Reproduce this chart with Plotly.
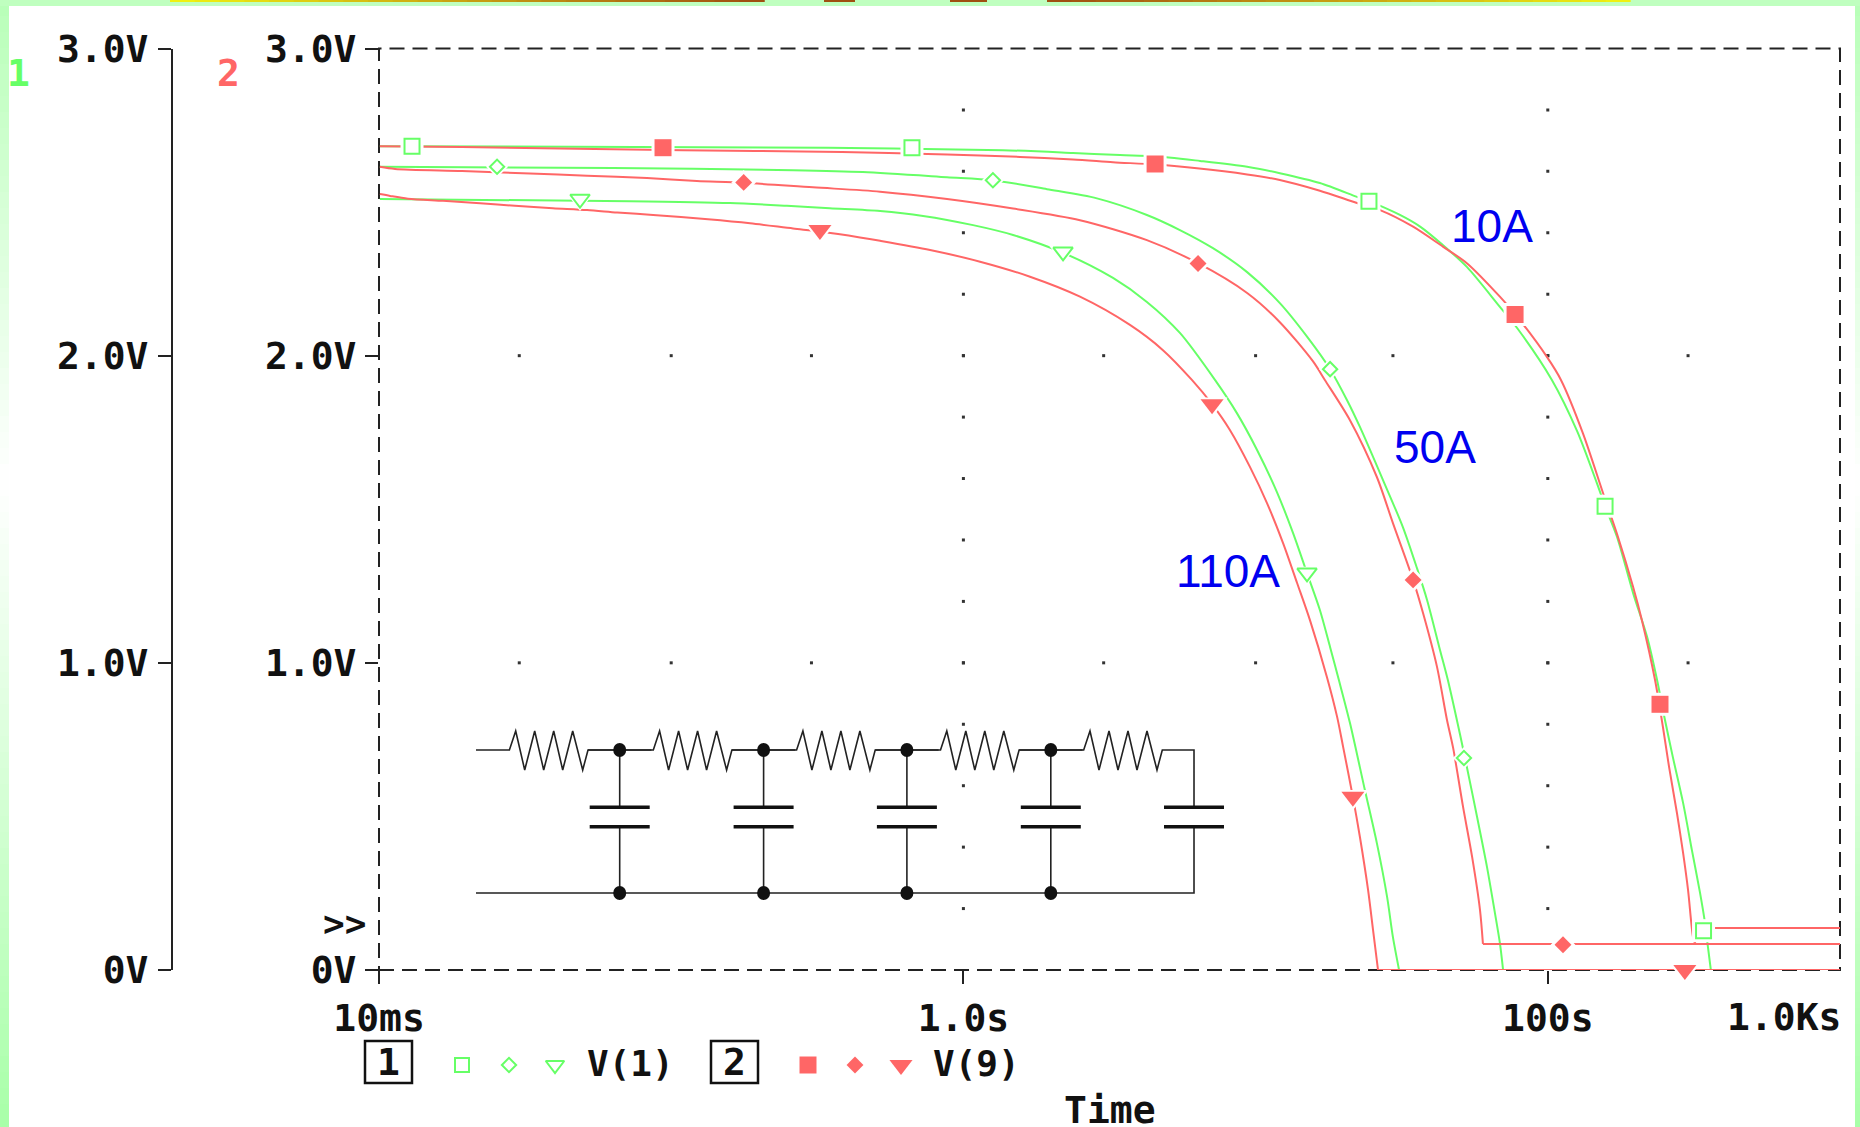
import plotly.graph_objects as go

W, H = 1860, 1127
RED, GREEN = "#ff6666", "#66ff66"
INK = "#222222"
BLUE = "#0000f0"
MONO = dict(family="DejaVu Sans Mono", size=38, color="#111111", weight=700)

# ---- axis content -------------------------------------------------------
x_tick_seconds = [0.01, 1, 100]
x_tick_labels = ["10ms", "1.0s", "100s"]
y_ticks = [0, 1, 2, 3]
y_tick_labels = ["0V", "1.0V", "2.0V", "3.0V"]

# ---- curves: log10(time / s) and volts ----------------------------------
g10_logt = [-1.997, -0.463, 0.135, 0.375, 0.536, 0.649, 0.810, 0.971, 1.083, 1.220, 1.347, 1.388, 1.494, 1.563, 1.641,
            1.723, 1.836, 1.895, 2.014, 2.100, 2.168, 2.196, 2.237, 2.292, 2.340, 2.374, 2.401, 2.428, 2.463, 2.493,
            2.521, 2.538, 2.548, 2.558, 3.0]
g10_v = [2.682, 2.677, 2.669, 2.660, 2.653, 2.650, 2.634, 2.615, 2.594, 2.562, 2.517, 2.503, 2.458, 2.420, 2.360,
         2.289, 2.159, 2.090, 1.921, 1.755, 1.585, 1.510, 1.410, 1.227, 1.084, 0.944, 0.814, 0.693, 0.544, 0.391,
         0.251, 0.153, 0.075, 0.0, 0.0]

r10_logt = [-1.997, -1.716, -0.960, -0.415, -0.056, 0.194, 0.375, 0.512, 0.656, 0.799, 0.971, 1.083, 1.220, 1.347,
            1.426, 1.539, 1.641, 1.723, 1.836, 1.888, 1.997, 2.045, 2.120, 2.189, 2.237, 2.292, 2.322, 2.367, 2.394,
            2.415, 2.442, 2.463, 2.480, 2.497, 2.504, 2.504, 3.0]
r10_v = [2.682, 2.679, 2.669, 2.663, 2.655, 2.647, 2.639, 2.630, 2.622, 2.610, 2.590, 2.572, 2.537, 2.497,
         2.474, 2.420, 2.355, 2.301, 2.192, 2.135, 1.996, 1.921, 1.748, 1.553, 1.419, 1.247, 1.139, 0.944, 0.791,
         0.661, 0.511, 0.381, 0.260, 0.107, 0.085, 0.137, 0.137]

g50_logt = [-1.997, -1.199, -0.583, -0.344, -0.056, 0.101, 0.286, 0.457, 0.628, 0.741, 0.854, 0.971, 1.083, 1.176,
            1.255, 1.313, 1.357, 1.436, 1.504, 1.552, 1.587, 1.631, 1.658, 1.700, 1.723, 1.758, 1.792, 1.819, 1.836,
            1.847, 3.0]
g50_v = [2.615, 2.611, 2.604, 2.598, 2.581, 2.571, 2.542, 2.512, 2.458, 2.409, 2.350, 2.272, 2.171, 2.062,
         1.956, 1.855, 1.768, 1.595, 1.442, 1.309, 1.204, 1.042, 0.944, 0.765, 0.661, 0.498, 0.335, 0.186, 0.088,
         0.0, 0.0]

r50_logt = [-1.997, -1.945, -1.716, -1.483, -1.288, -1.083, -0.912, -0.754, -0.515, -0.285, -0.056, 0.170, 0.399,
            0.628, 0.803, 0.971, 1.083, 1.196, 1.237, 1.323, 1.415, 1.470, 1.539, 1.573, 1.621, 1.655, 1.676, 1.710,
            1.741, 1.768, 1.778, 3.0]
r50_v = [2.615, 2.608, 2.601, 2.593, 2.586, 2.578, 2.569, 2.563, 2.548, 2.534, 2.510, 2.479, 2.441,
         2.376, 2.301, 2.204, 2.109, 1.982, 1.921, 1.790, 1.605, 1.455, 1.270, 1.162, 0.986, 0.814, 0.723, 0.531,
         0.368, 0.195, 0.085, 0.085]

g110_logt = [-1.997, -1.141, -0.799, -0.604, -0.457, -0.285, -0.138, 0.033, 0.170, 0.341, 0.512, 0.628, 0.741, 0.861,
             0.936, 1.005, 1.073, 1.128, 1.176, 1.220, 1.255, 1.285, 1.323, 1.374, 1.415, 1.450, 1.470, 1.491, 3.0]
g110_v = [2.510, 2.503, 2.497, 2.488, 2.480, 2.471, 2.455, 2.425, 2.393, 2.335, 2.253, 2.175, 2.074, 1.921,
          1.813, 1.693, 1.556, 1.423, 1.292, 1.172, 1.051, 0.944, 0.804, 0.586, 0.413, 0.238, 0.107, 0.0, 0.0]

r110_logt = [-1.997, -1.962, -1.901, -1.781, -1.654, -1.535, -1.405, -1.288, -1.185, -1.062, -0.874, -0.730, -0.583,
             -0.491, -0.354, -0.285, -0.114, 0.057, 0.228, 0.399, 0.570, 0.683, 0.782, 0.851, 0.912, 0.981, 1.039,
             1.094, 1.142, 1.186, 1.244, 1.279, 1.299, 1.333, 1.357, 1.385, 1.402, 1.419, 3.0]
r110_v = [2.526, 2.520, 2.511, 2.504, 2.496, 2.488, 2.480, 2.474, 2.466, 2.458, 2.444, 2.431, 2.414,
          2.404, 2.385, 2.374, 2.344, 2.306, 2.257, 2.192, 2.100, 2.018, 1.921, 1.842, 1.758, 1.637, 1.520,
          1.390, 1.260, 1.139, 0.954, 0.824, 0.729, 0.563, 0.433, 0.260, 0.130, 0.0, 0.0]

# ---- curve markers ------------------------------------------------------
g_square_logt = [-1.887, -0.176, 1.388, 2.196, 2.533]
g_square_v = [2.682, 2.677, 2.503, 1.510, 0.128]
g_diamond_logt = [-1.596, 0.101, 1.255, 1.713]
g_diamond_v = [2.615, 2.571, 1.956, 0.690]
g_tri_logt = [-1.312, 0.341, 1.176]
g_tri_v = [2.510, 2.338, 1.293]
r_square_logt = [-1.028, 0.656, 1.888, 2.384]
r_square_v = [2.677, 2.624, 2.134, 0.865]
r_diamond_logt = [-0.752, 0.803, 1.539, 2.052]
r_diamond_v = [2.564, 2.300, 1.270, 0.082]
r_tri_logt = [-0.491, 0.851, 1.333, 2.469]
r_tri_v = [2.409, 1.842, 0.564, 0.0]

# ---- dotted grid --------------------------------------------------------
grid_h_logt = [-1.52, -1.0, -0.52, 0.0, 0.48, 1.0, 1.47, 2.0, 2.48]
grid_h_v = [1, 2]
grid_v_logt = [0, 2]
grid_v_v = [0.2, 0.4, 0.6, 0.8, 1.0, 1.2, 1.4, 1.6, 1.8, 2.0, 2.2, 2.4, 2.6, 2.8]


def secs(seq):
    return [10 ** v for v in seq]


fig = go.Figure()

# grid dots
gx = [a for a in grid_h_logt for _ in grid_h_v] + [a for a in grid_v_logt for _ in grid_v_v]
gy = [b for _ in grid_h_logt for b in grid_h_v] + [b for _ in grid_v_logt for b in grid_v_v]
fig.add_trace(go.Scatter(x=secs(gx), y=gy, mode="markers", yaxis="y2",
                         marker=dict(symbol="square", size=3, color="#333333", line_width=0)))


# each curve: a smooth fall, then a straight tail of the given number of points
def add_curve(lx, ly, axis, color, tail=2):
    cut = len(lx) - tail
    fig.add_trace(go.Scatter(x=secs(lx[:cut + 1]), y=ly[:cut + 1], mode="lines", yaxis=axis, cliponaxis=False,
                             line=dict(color=color, width=2, shape="spline", smoothing=0.8)))
    fig.add_trace(go.Scatter(x=secs(lx[cut:]), y=ly[cut:], mode="lines", yaxis=axis, cliponaxis=False,
                             line=dict(color=color, width=2)))


# curves: axis 1 green, axis 2 red
add_curve(g10_logt, g10_v, "y", GREEN)
add_curve(g50_logt, g50_v, "y", GREEN)
add_curve(g110_logt, g110_v, "y", GREEN)
add_curve(r10_logt, r10_v, "y2", RED, tail=3)
add_curve(r50_logt, r50_v, "y2", RED)
add_curve(r110_logt, r110_v, "y2", RED)

# markers with a white halo, as the curve is broken around each of them
marker_sets = [
    (r_square_logt, r_square_v, "square", 17, 23, True),
    (r_diamond_logt, r_diamond_v, "diamond", 13, 19, True),
    (r_tri_logt, r_tri_v, "triangle-down", 20, 27, True),
    (g_square_logt, g_square_v, "square", 15, 23, False),
    (g_diamond_logt, g_diamond_v, "diamond", 11, 17, False),
    (g_tri_logt, g_tri_v, "triangle-down", 17, 24, False),
]
for lx, ly, sym, size, halo, solid in marker_sets:
    fig.add_trace(go.Scatter(x=secs(lx), y=ly, mode="markers", yaxis="y2", cliponaxis=False,
                             marker=dict(symbol=sym, size=halo, color="white", line_width=0)))
for lx, ly, sym, size, halo, solid in marker_sets:
    fig.add_trace(go.Scatter(x=secs(lx), y=ly, mode="markers", yaxis="y2", cliponaxis=False,
                             marker=dict(symbol=sym, size=size, color=RED if solid else "white",
                                         line=dict(color=RED if solid else GREEN, width=0 if solid else 2))))

# legend keys, on a pixel-scaled overlay axis pair
key_x = [462, 509, 555, 808, 855, 901]
key_y = [1065, 1065, 1065, 1065, 1065, 1065]
key_sym = ["square", "diamond", "triangle-down", "square", "diamond", "triangle-down"]
key_size = [14, 11, 16, 17, 13, 20]
key_fill = ["white", "white", "white", RED, RED, RED]
key_line = [GREEN, GREEN, GREEN, RED, RED, RED]
key_lw = [2, 2, 2, 0, 0, 0]
fig.add_trace(go.Scatter(x=key_x, y=key_y, mode="markers", xaxis="x3", yaxis="y3", opacity=1,
                         marker=dict(symbol=key_sym, size=key_size, color=key_fill, opacity=1,
                                     line=dict(color=key_line, width=key_lw))))


def px(x):
    return x / W


def py(y):
    return 1 - y / H


shapes = []


def rect(x0, y0, x1, y1, fill=None, line=None, lw=0, dash=None, layer="above"):
    d = dict(type="rect", xref="paper", yref="paper", x0=px(x0), x1=px(x1), y0=py(y0), y1=py(y1),
             layer=layer, line=dict(width=lw, color=line or "rgba(0,0,0,0)"))
    if dash:
        d["line"]["dash"] = dash
    if fill:
        d["fillcolor"] = fill
    shapes.append(d)


def wire(points, lw=1.6, color=INK):
    path = "M " + " L ".join(f"{px(a):.5f},{py(b):.5f}" for a, b in points)
    shapes.append(dict(type="path", xref="paper", yref="paper", path=path, layer="above",
                       line=dict(width=lw, color=color)))


# page frame: vertical green fade, white in the middle
def mix(t, low):
    v = round(255 + (low - 255) * t)
    return f"rgb({v},255,{v})"


STEP = 16
for y in range(0, H, STEP):
    mid = y + STEP / 2
    c = mix((480 - mid) / 480, 0xB8) if mid < 480 else mix((mid - 480) / (H - 480), 0xA8)
    rect(0, y, 9, y + STEP + 1, fill=c, layer="below")
    rect(1855, y, W, y + STEP + 1, fill=c, layer="below")
rect(0, 0, W, 6, fill="#bfffbf", layer="below")


# thin yellow-to-brown strip along the top edge
def strip_color(t):
    return f"rgb({round(240 - 80 * t)},{round(240 - 160 * t)},{round(16)})"


for i in range(24):
    t = i / 23
    a = 170 + (764 - 170) * i / 24
    rect(a, 0, a + 25.5, 2, fill=strip_color(t), layer="below")
    b = 1047 + (1630 - 1047) * i / 24
    rect(b, 0, b + 25, 2, fill=strip_color(1 - t), layer="below")
rect(824, 0, 855, 2, fill=strip_color(1), layer="below")
rect(950, 0, 987, 2, fill=strip_color(1), layer="below")

# dashed plot frame
L, R, T, B = 379, 1840, 48.5, 970
shapes.append(dict(type="rect", xref="paper", yref="paper", x0=px(L), x1=px(R), y0=py(B), y1=py(T), layer="below",
                   line=dict(color=INK, width=2, dash="15px,8px")))

# circuit inset
node_x = [619.7, 763.6, 906.9, 1050.8]
last_x = 1194
wire_top, wire_bot = 750, 893
plate_a, plate_b = 807.3, 826.7
zig = [(-110.3, 750), (-104, 731), (-95, 770), (-85, 731), (-76, 770), (-66, 731), (-57, 770), (-47, 731), (-37, 770),
       (-31.7, 750)]
run = [(476, wire_top)]
for nx in node_x + [last_x]:
    run += [(nx + dx, yy) for dx, yy in zig]
run += [(last_x, wire_top), (last_x, plate_a)]
wire(run)
wire([(last_x, plate_b), (last_x, wire_bot), (476, wire_bot)])
for nx in node_x:
    wire([(nx - 31.7, wire_top), (nx + 31.7, wire_top)])
    wire([(nx, wire_top), (nx, plate_a)])
    wire([(nx, plate_b), (nx, wire_bot)])
    for ny in (wire_top, wire_bot):
        shapes.append(dict(type="circle", xref="paper", yref="paper", x0=px(nx - 6.5), x1=px(nx + 6.5),
                           y0=py(ny + 7), y1=py(ny - 7), fillcolor="#111111", line_width=0, layer="above"))
for nx in node_x + [last_x]:
    wire([(nx - 30, plate_a), (nx + 30, plate_a)], lw=3.5, color="#111111")
    wire([(nx - 30, plate_b), (nx + 30, plate_b)], lw=3.5, color="#111111")

# legend boxes
rect(365, 1041, 412, 1083, line="#111111", lw=2.5)
rect(711, 1041, 758, 1083, line="#111111", lw=2.5)


def note(x, y, text, font):
    return dict(xref="paper", yref="paper", x=px(x), y=py(y), text=text, showarrow=False, xanchor="center",
                yanchor="middle", font=font)


BLUE_FONT = dict(family="Liberation Sans", size=46, color=BLUE)
notes = [
    note(18, 73, "1", dict(MONO, color=GREEN)),
    note(228, 73, "2", dict(MONO, color=RED)),
    note(1784, 1017, "1.0Ks", MONO),
    note(344, 923, ">>", dict(MONO, size=36)),
    note(388.5, 1062, "1", MONO),
    note(734.5, 1062, "2", MONO),
    note(630, 1063, "V(1)", dict(MONO, size=36)),
    note(976, 1063, "V(9)", dict(MONO, size=36)),
    note(1110, 1110, "Time", MONO),
    note(1492, 226, "10A", BLUE_FONT),
    note(1435, 447, "50A", BLUE_FONT),
    note(1228, 571, "110A", BLUE_FONT),
]

y_domain = [(H - B) / H, (H - T) / H]
tick_style = dict(ticks="outside", ticklen=13, tickwidth=2, tickcolor=INK, showgrid=False, zeroline=False,
                  tickfont=MONO, automargin=False)

fig.update_layout(
    width=W, height=H, autosize=False, showlegend=False,
    margin=dict(l=0, r=0, t=0, b=0, pad=0, autoexpand=False), paper_bgcolor="white", plot_bgcolor="rgba(0,0,0,0)",
    hovermode=False, shapes=shapes, annotations=notes,
    xaxis=dict(type="log", range=[-2, 3], domain=[L / W, R / W], anchor="y2", tickmode="array",
               tickvals=x_tick_seconds, ticktext=x_tick_labels, showline=False, ticklabelstandoff=1, **tick_style),
    yaxis=dict(range=[0, 3], domain=y_domain, anchor="free", position=172 / W, tickmode="array",
               tickvals=y_ticks, ticktext=y_tick_labels, showline=True, linecolor=INK, linewidth=2,
               ticklabelstandoff=2, **tick_style),
    yaxis2=dict(range=[0, 3], domain=y_domain, anchor="x", overlaying="y", side="left", tickmode="array",
                tickvals=y_ticks, ticktext=y_tick_labels, showline=False, ticklabelstandoff=1, **tick_style),
    xaxis3=dict(range=[0, W], domain=[0, 1], visible=False, anchor="y3", automargin=False),
    yaxis3=dict(range=[H, 0], domain=[0, 1], visible=False, anchor="x3", automargin=False),
)

# the page's default body margin would push the figure off its 1860x1127 frame
fig.write_html("out.html", config=dict(displayModeBar=False),
               post_script="document.body.style.margin='0';document.body.style.overflow='hidden';")
